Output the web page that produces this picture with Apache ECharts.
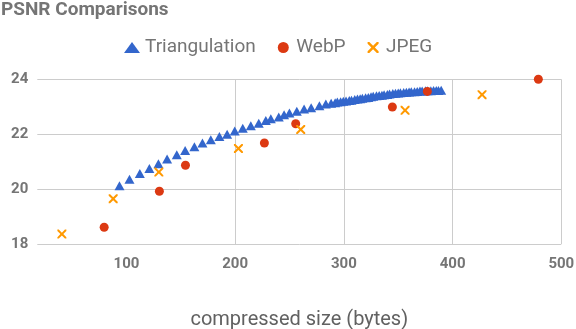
<!DOCTYPE html>
<html>
<head>
<meta charset="utf-8">
<script src="https://cdn.jsdelivr.net/npm/echarts@6/dist/echarts.min.js"></script>
<style>
html,body{margin:0;padding:0;background:#fff;}
#c{width:576px;height:329px;}
</style>
</head>
<body>
<div id="c"></div>
<script>
const titleText = 'PSNR Comparisons';
const xAxisName = 'compressed size (bytes)';
const seriesNames = ['Triangulation', 'WebP', 'JPEG'];
const xTicks = [100, 200, 300, 400, 500];

const triX = [93.6,102.8,112.3,121.1,129.4,137.4,146.3,154,162.5,169.9,177.6,185.5,192.6,199.6,207,214.4,221.7,228.2,232.8,240.1,245,249.9,256.7,263.4,269.9,277.5,283.4,288.3,
  292,294,297,299.5,302,305,307,310,312.5,315,317,320,322.5,325,327,330,332.5,335,337,340,342,345,347.5,350,352,355,357.5,360,362,365,367.5,370,372,375,377,380,382.5,385,387,389.5];
const triY = [20.12,20.36,20.57,20.75,20.92,21.10,21.25,21.41,21.54,21.68,21.80,21.92,22.00,22.12,22.22,22.31,22.40,22.50,22.56,22.63,22.71,22.77,22.84,22.92,22.96,23.04,23.10,23.13,
  23.15,23.17,23.18,23.20,23.21,23.23,23.24,23.26,23.28,23.29,23.31,23.33,23.34,23.36,23.38,23.40,23.41,23.42,23.44,23.45,23.46,23.48,23.49,23.50,23.51,23.52,23.53,23.54,23.55,23.55,23.56,23.57,23.57,23.58,23.58,23.58,23.59,23.59,23.59,23.60];

const webpX = [79.5,130.3,154.3,226.9,255.7,344.6,376.8,478.9];
const webpY = [18.61,19.92,20.87,21.68,22.38,22.99,23.56,24.0];

const jpegX = [40.6,87.8,129.8,203,260.3,356.3,427.1];
const jpegY = [18.36,19.65,20.62,21.48,22.17,22.87,23.44];

const xMin = 18, xMax = 500;
const yMin = 18, yMax = 24, yInterval = 2;

function pairs(xs, ys){ return xs.map((x,i)=>[x, ys[i]]); }

const xPath = 'path://M0,0 L1.6,0 L5,3.4 L8.4,0 L10,0 L10,1.6 L6.6,5 L10,8.4 L10,10 L8.4,10 L5,6.6 L1.6,10 L0,10 L0,8.4 L3.4,5 L0,1.6 Z';

const chart = echarts.init(document.getElementById('c'));
chart.setOption({
  animation: false,
  textStyle: {fontFamily: 'Roboto'},
  title: {
    text: titleText, left: -4, top: -4,
    textStyle: {fontFamily: 'Roboto', fontSize: 19, fontWeight: 'bold', color: '#757575'}
  },
  legend: {
    left: 119, top: 33, itemGap: 22, itemWidth: 16, itemHeight: 11,
    textStyle: {fontFamily: 'Roboto', fontSize: 19, color: '#757575'},
    data: [
      {name: seriesNames[0], icon: 'triangle'},
      {name: seriesNames[1], icon: 'circle'},
      {name: seriesNames[2], icon: xPath}
    ]
  },
  grid: {left: 37.3, right: 14.7, top: 79.3, bottom: 85, containLabel: false, outerBoundsMode: 'none'},
  xAxis: {
    type: 'value', min: xMin, max: xMax,
    name: xAxisName, nameLocation: 'middle', nameGap: 66,
    nameTextStyle: {fontFamily: 'Roboto', fontSize: 20, color: '#616161'},
    axisLine: {show: false},
    axisTick: {show: false, customValues: xTicks},
    axisLabel: {customValues: xTicks, margin: 13, fontSize: 15, fontWeight: 'bold', color: '#757575', fontFamily: 'Roboto'},
    splitLine: {show: true, showMinLine: false, lineStyle: {color: '#cccccc', width: 1}}
  },
  yAxis: {
    type: 'value', min: yMin, max: yMax, interval: yInterval,
    axisLine: {show: false}, axisTick: {show: false},
    axisLabel: {margin: 9, fontSize: 15, fontWeight: 'bold', color: '#757575', fontFamily: 'Roboto'},
    splitLine: {show: true, lineStyle: {color: '#cccccc', width: 1}}
  },
  series: [
    {name: seriesNames[0], type: 'scatter', symbol: 'triangle', symbolSize: [10, 9],
     itemStyle: {color: '#3366cc', opacity: 1}, data: pairs(triX, triY)},
    {name: seriesNames[1], type: 'scatter', symbol: 'circle', symbolSize: 9, clip: false,
     itemStyle: {color: '#dc3912', opacity: 1}, data: pairs(webpX, webpY)},
    {name: seriesNames[2], type: 'scatter', symbol: xPath, symbolSize: 9,
     itemStyle: {color: '#ff9900', opacity: 1}, data: pairs(jpegX, jpegY)}
  ]
});
</script>
</body>
</html>
